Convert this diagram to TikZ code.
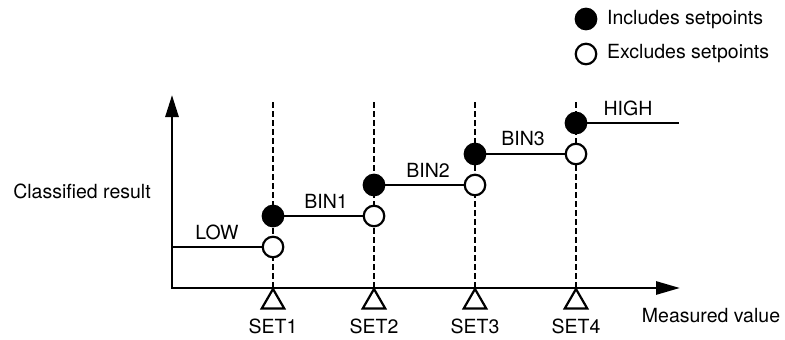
\documentclass[tikz,border=0pt]{standalone}
\usepackage{fontspec}
\setmainfont{TeX Gyre Heros}
\usetikzlibrary{arrows.meta,shapes.geometric}
\begin{document}
\begin{tikzpicture}[
  x=1pt,y=-1pt,
  lbl/.style={font=\fontsize{19.5}{22}\selectfont,inner sep=1pt},
  axis/.style={line width=2.8pt},
  guide/.style={line width=2.3pt,dash pattern=on 5.5pt off 3.5pt},
  level/.style={line width=2pt},
  incl/.style={circle,draw,fill=black,line width=2.2pt,minimum size=20.5pt,inner sep=0pt},
  excl/.style={circle,draw,fill=white,line width=2.2pt,minimum size=20.5pt,inner sep=0pt},
  setmark/.style={regular polygon,regular polygon sides=3,draw,fill=white,line width=2.2pt,
    minimum size=26pt,inner sep=0pt,outer sep=0pt,anchor=corner 1}
]
  \useasboundingbox (0,0) rectangle (785,340);

  % axes
  \coordinate (O) at (172,288);
  \coordinate (ytip) at (172,95);
  \coordinate (xtip) at (680,288);
  \draw[axis,{Triangle[length=22pt,width=13pt]}-{Triangle[length=24pt,width=13pt]}]
    (ytip) -- (O) -- (xtip);
  \node[lbl] (ylab) at (82,191) {Classified result};
  \node[lbl] (xlab) at (711,316) {Measured value};

  % setpoints
  \foreach \x [count=\i] in {273,374,475,576} {
    \coordinate (top\i) at (\x,102);
    \coordinate (base\i) at (\x,287);
    \draw[guide] (top\i) -- (base\i);
    \node[setmark] (tri\i) at (\x,289) {};
    \node[lbl] (set\i) at (\x,326) {SET\i};
  }

  % bins
  \node[excl] (ex1) at (273,247) {};
  \node[incl] (in1) at (273,216) {};
  \node[excl] (ex2) at (374,216) {};
  \node[incl] (in2) at (374,185) {};
  \node[excl] (ex3) at (475,185) {};
  \node[incl] (in3) at (475,154) {};
  \node[excl] (ex4) at (576,154) {};
  \node[incl] (in4) at (576,123) {};
  \coordinate (lowstart) at (172,247);
  \coordinate (highend) at (679,123);

  \draw[level] (lowstart) -- (ex1);
  \draw[level] (in1) -- (ex2);
  \draw[level] (in2) -- (ex3);
  \draw[level] (in3) -- (ex4);
  \draw[level] (in4) -- (highend);

  \node[lbl] (low) at (217,232) {LOW};
  \node[lbl] (bin1) at (326,201) {BIN1};
  \node[lbl] (bin2) at (428,170) {BIN2};
  \node[lbl] (bin3) at (523,139) {BIN3};
  \node[lbl] (high) at (628,108) {HIGH};

  % legend
  \node[incl] (keyin) at (586,19) {};
  \node[lbl,anchor=west] (keyintext) at (606,20) {Includes setpoints};
  \node[excl] (keyex) at (586,54) {};
  \node[lbl,anchor=west] (keyextext) at (606,54) {Excludes setpoints};
\end{tikzpicture}
\end{document}
